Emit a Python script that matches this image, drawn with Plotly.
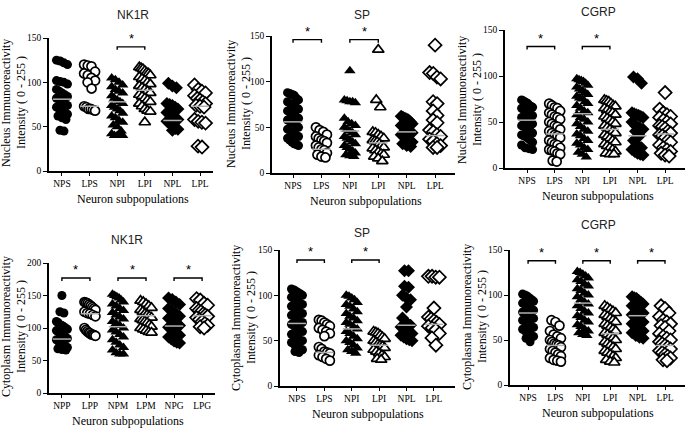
import plotly.graph_objects as go

W, H = 689, 430

# ---------------- category labels ----------------
cats_std = ["NPS", "LPS", "NPI", "LPI", "NPL", "LPL"]
cats_nk1r_cyto = ["NPP", "LPP", "NPM", "LPM", "NPG", "LPG"]

# ---------------- Panel 1: NK1R nucleus ----------------
nk1r_nuc_nps = [125,124,122,120,102,101,100,98,92,90,88,86,84,82,80,78,76,74,72,70,68,66,64,62,60,58,46,45]
nk1r_nuc_lps = [120,119,118,112,110,108,105,102,100,93,73,72,70,70,69,68]
nk1r_nuc_npi = [105,103,100,97,95,92,90,88,85,82,80,78,76,74,72,70,68,65,62,60,57,55,52,50,45,42,40,40,40,40]
nk1r_nuc_lpi = [117,116,115,113,111,110,108,106,104,102,100,98,96,94,92,90,88,86,84,82,80,78,76,73,70,68,67,55]
nk1r_nuc_npl = [99,96,94,76,75,74,72,70,66,64,62,60,58,56,54,52,50,48,47,46]
nk1r_nuc_lpl = [97,92,90,88,85,82,80,78,76,74,73,72,58,56,55,54,28,27]
nk1r_nuc_med = [81, 73, 78, 91, 57, 73]

# ---------------- Panel 2: SP nucleus ----------------
sp_nuc_nps = [88,87,86,85,82,80,78,76,74,72,70,68,66,64,62,60,58,56,55,53,50,48,46,44,42,40,38,36,34,32,31,30]
sp_nuc_lps = [50,47,45,42,40,38,36,35,33,30,28,26,25,22,20,18,17]
sp_nuc_npi = [112,80,79,78,78,77,60,56,54,52,50,48,46,44,42,40,38,36,34,32,30,28,26,24,22,20,19,18]
sp_nuc_lpi = [135,80,72,45,44,42,40,38,36,35,34,32,30,28,27,25,23,21,20,18,16,13]
sp_nuc_npl = [62,61,60,59,58,56,54,52,50,48,46,44,42,40,38,36,34,32,30,29]
sp_nuc_lpl = [140,110,109,105,103,78,76,68,63,58,55,47,45,42,40,37,35,32,30,28,28]
sp_nuc_med = [56, 26, 46, 33, 45, 41]

# ---------------- Panel 3: CGRP nucleus ----------------
cgrp_nuc_nps = [74,73,72,71,70,68,67,66,65,63,62,60,58,57,55,54,52,50,49,48,46,45,44,42,40,38,36,35,34,32,30,28,25,22,21,20]
cgrp_nuc_lps = [70,68,66,65,62,60,58,56,55,53,50,48,46,45,42,40,38,36,35,33,30,28,26,25,22,20,19,18,16,15,8,7]
cgrp_nuc_npi = [97,96,95,94,92,90,88,86,84,82,80,78,76,75,72,70,68,65,62,60,58,55,53,50,48,45,42,40,37,35,32,30,27,25,22,20,17,15,12]
cgrp_nuc_lpi = [74,73,72,70,68,67,65,63,61,60,58,56,54,52,50,48,46,44,42,40,38,36,34,32,30,28,26,24,22,20,18,16,15,15]
cgrp_nuc_npl = [99,97,92,60,59,58,57,56,55,50,46,44,42,40,35,30,25,22,20,18,16,15,14]
cgrp_nuc_lpl = [82,64,60,58,56,55,52,50,48,46,45,43,40,38,36,35,33,30,28,25,22,20,18,16,14,13]
cgrp_nuc_med = [52, 37, 59, 42, 35, 37]

# ---------------- Panel 4: NK1R cytoplasm ----------------
nk1r_cyt_npp = [150,125,123,110,108,105,104,102,100,98,96,94,92,90,88,86,84,82,80,78,76,74,72,70,68,67,66]
nk1r_cyt_lpp = [140,139,138,136,134,132,130,128,125,123,122,120,118,100,97,95,93,92,90,90,89,88]
nk1r_cyt_npm = [152,150,148,146,143,140,137,134,130,127,124,120,117,114,110,107,104,100,97,94,90,86,82,78,74,70,66,62,60,60]
nk1r_cyt_lpm = [142,140,137,134,131,128,125,122,120,118,116,114,112,110,108,105,102,100,98,96,94,93]
nk1r_cyt_npg = [146,144,140,136,130,126,122,118,115,112,110,107,104,101,98,95,92,89,86,83,80,78,77]
nk1r_cyt_lpg = [145,143,138,135,130,127,125,122,120,118,116,113,110,107,104,102,100]
nk1r_cyt_med = [83, 122, 102, 119, 103, 119]

# ---------------- Panel 5: SP cytoplasm ----------------
sp_cyt_nps = [107,106,104,102,100,98,96,94,92,90,88,86,84,82,80,78,75,72,70,68,66,64,62,60,57,55,52,50,48,46,44,42,40,38,37]
sp_cyt_lps = [73,72,70,68,66,64,62,60,58,55,43,41,38,37,36,34,32,30,28]
sp_cyt_npi = [100,99,97,95,92,90,88,85,82,80,77,75,72,70,68,65,63,60,58,55,52,50,48,45,42,40,38,36]
sp_cyt_lpi = [60,59,58,56,54,52,50,48,46,45,44,42,40,38,36,34,32,30,29]
sp_cyt_npl = [127,127,110,109,100,97,95,87,75,70,67,65,62,60,58,56,54,52,51,50]
sp_cyt_lpl = [121,121,120,120,86,76,74,72,70,68,66,64,62,58,53,45]
sp_cyt_med = [69, 37, 63, 45, 67, 68]

# ---------------- Panel 6: CGRP cytoplasm ----------------
cgrp_cyt_nps = [101,100,99,97,95,93,91,89,87,85,83,81,80,78,76,74,72,70,68,66,64,62,60,58,56,54,52,48]
cgrp_cyt_lps = [72,70,66,60,56,54,52,50,48,46,45,44,42,40,38,36,34,32,30,28,27,26]
cgrp_cyt_npi = [126,125,123,121,119,117,115,112,110,107,105,102,100,98,95,92,90,88,85,82,80,77,75,72,70,67,65,62,60,58,56,55]
cgrp_cyt_lpi = [88,86,84,82,80,78,76,74,72,70,68,66,64,62,60,58,56,54,52,50,48,46,44,42,40,38,36,34,32,30,28,26,25]
cgrp_cyt_npl = [98,97,96,94,92,90,88,86,84,82,80,78,76,74,72,70,68,66,64,62,60,58,55,53,52]
cgrp_cyt_lpl = [88,85,80,76,72,70,68,66,64,60,57,54,52,50,48,46,44,42,40,38,36,34,32,30,28,27]
cgrp_cyt_med = [80, 44, 91, 57, 77, 44]

# ---------------- titles ----------------
panel_titles = ["NK1R", "SP", "CGRP", "NK1R", "SP", "CGRP"]
ytitle_line1 = ["Nucleus Immunoreactivity", "Nucleus Immunoreactivity", "Nucleus Immunoreactivity",
                "Cytoplasm Immunoreactivity", "Cytoplasma Immunoreactivity", "Cytoplasma Immunoreactivity"]
ytitle_line2 = "Intensity ( 0 - 255 )"
xtitle = "Neuron subpopulations"

# significance pairs: (group a, group b, bracket y)
sig_p1 = [(2, 3, 140)]
sig_p2 = [(0, 1, 146), (2, 3, 146)]
sig_p3 = [(0, 1, 132), (2, 3, 132)]
sig_p4 = [(0, 1, 177), (2, 3, 177), (4, 5, 177)]
sig_p5 = [(0, 1, 139), (2, 3, 139)]
sig_p6 = [(0, 1, 138), (2, 3, 138), (4, 5, 138)]

panels = [
    dict(cats=cats_std, series=[nk1r_nuc_nps, nk1r_nuc_lps, nk1r_nuc_npi, nk1r_nuc_lpi, nk1r_nuc_npl, nk1r_nuc_lpl],
         med=nk1r_nuc_med, sig=sig_p1, ymax=150, yt=[0, 50, 100, 150],
         px=(49, 213), py=(38, 171), xr=(-0.47, 5.47), title=(133, 15), xt=(133, 199), yl=(6, 21, 103)),
    dict(cats=cats_std, series=[sp_nuc_nps, sp_nuc_lps, sp_nuc_npi, sp_nuc_lpi, sp_nuc_npl, sp_nuc_lpl],
         med=sp_nuc_med, sig=sig_p2, ymax=150, yt=[0, 50, 100, 150],
         px=(272, 455), py=(36, 173), xr=(-0.74, 5.7), title=(362, 15), xt=(366, 201), yl=(231, 246, 104)),
    dict(cats=cats_std, series=[cgrp_nuc_nps, cgrp_nuc_lps, cgrp_nuc_npi, cgrp_nuc_lpi, cgrp_nuc_npl, cgrp_nuc_lpl],
         med=cgrp_nuc_med, sig=sig_p3, ymax=150, yt=[0, 50, 100, 150],
         px=(505, 685), py=(30, 168), xr=(-0.8, 5.72), title=(598, 12), xt=(598, 196), yl=(462, 477, 100)),
    dict(cats=cats_nk1r_cyto, series=[nk1r_cyt_npp, nk1r_cyt_lpp, nk1r_cyt_npm, nk1r_cyt_lpm, nk1r_cyt_npg, nk1r_cyt_lpg],
         med=nk1r_cyt_med, sig=sig_p4, ymax=200, yt=[0, 50, 100, 150, 200],
         px=(49, 215), py=(263, 393), xr=(-0.46, 5.46), title=(127, 240), xt=(128, 421), yl=(6, 21, 327)),
    dict(cats=cats_std, series=[sp_cyt_nps, sp_cyt_lps, sp_cyt_npi, sp_cyt_lpi, sp_cyt_npl, sp_cyt_lpl],
         med=sp_cyt_med, sig=sig_p5, ymax=150, yt=[0, 50, 100, 150],
         px=(280, 455), py=(250, 386), xr=(-0.62, 5.77), title=(362, 233), xt=(368, 414), yl=(236, 251, 318)),
    dict(cats=cats_std, series=[cgrp_cyt_nps, cgrp_cyt_lps, cgrp_cyt_npi, cgrp_cyt_lpi, cgrp_cyt_npl, cgrp_cyt_lpl],
         med=cgrp_cyt_med, sig=sig_p6, ymax=150, yt=[0, 50, 100, 150],
         px=(510, 685), py=(250, 385), xr=(-0.66, 5.73), title=(598, 225), xt=(598, 413), yl=(467, 482, 317)),
]

symbols = ["circle", "circle", "triangle-up", "triangle-up", "diamond", "diamond"]
sizes = [9, 9, 10, 10, 10, 10]

SERIF = "Liberation Serif, DejaVu Serif, serif"
SANS = "Liberation Sans, Arial, sans-serif"

def fx(p):
    return p / W

def fy(p):
    return 1 - p / H

def spread(values, y_per_px, x_per_px):
    """Place points of similar value side by side (scatter dot plot layout)."""
    vals = sorted(values, reverse=True)
    bin_h = 8 * y_per_px
    groups = []
    for v in vals:
        if groups and groups[-1][0] - v < bin_h:
            groups[-1].append(v)
        else:
            groups.append([v])
    xs, ys = [], []
    for g in groups:
        k = len(g)
        step = (min(4.0, 11.0 / (k - 1)) if k > 1 else 0) * x_per_px
        for j, v in enumerate(g):
            xs.append((j - (k - 1) / 2) * step)
            ys.append(v)
    return xs, ys

fig = go.Figure()
layout = dict(width=W, height=H, margin=dict(l=0, r=0, t=0, b=0, autoexpand=False),
              paper_bgcolor="white", plot_bgcolor="white", showlegend=False)
annotations = []

def ann(x, y, text, font, angle=0):
    annotations.append(dict(x=fx(x), y=fy(y), xref="paper", yref="paper", text=text,
                            xanchor="center", yanchor="middle", textangle=angle,
                            showarrow=False, font=font))

for i, p in enumerate(panels):
    n = i + 1
    xa = "x" if n == 1 else f"x{n}"
    ya = "y" if n == 1 else f"y{n}"
    xkey = "xaxis" if n == 1 else f"xaxis{n}"
    ykey = "yaxis" if n == 1 else f"yaxis{n}"
    dom_w = p["px"][1] - p["px"][0]
    dom_h = p["py"][1] - p["py"][0]
    x_per_px = (p["xr"][1] - p["xr"][0]) / dom_w
    y_per_px = p["ymax"] / dom_h

    layout[xkey] = dict(domain=[fx(p["px"][0]), fx(p["px"][1])], range=list(p["xr"]), anchor=ya,
                        tickvals=list(range(6)), ticktext=p["cats"], showline=True, linecolor="black",
                        linewidth=1.5, ticks="outside", ticklen=3, tickwidth=1.2, tickcolor="black",
                        showgrid=False, zeroline=False, tickfont=dict(family=SERIF, size=9.5, color="black"))
    layout[ykey] = dict(domain=[fy(p["py"][1]), fy(p["py"][0])], range=[0, p["ymax"]], anchor=xa,
                        tickvals=p["yt"], showline=True, linecolor="black", linewidth=1.5,
                        ticks="outside", ticklen=4, tickwidth=1.2, tickcolor="black",
                        showgrid=False, zeroline=False, tickfont=dict(family=SERIF, size=9.5, color="black"))

    for g, vals in enumerate(p["series"]):
        dx, ys = spread(vals, y_per_px, x_per_px)
        xs = [g + d for d in dx]
        filled = g % 2 == 0
        fig.add_trace(go.Scatter(
            x=xs, y=ys, mode="markers", xaxis=xa, yaxis=ya, cliponaxis=False,
            marker=dict(symbol=symbols[g], size=sizes[g],
                        color="black" if filled else "white",
                        line=dict(color="black", width=0 if filled else 1.7))))

    # median lines
    mx, my = [], []
    for g, m in enumerate(p["med"]):
        mx += [g - 0.33, g + 0.33, None]
        my += [m, m, None]
    fig.add_trace(go.Scatter(x=mx, y=my, mode="lines", xaxis=xa, yaxis=ya,
                             line=dict(color="#b0b0b0", width=1.5)))

    # significance brackets
    d = 3 * y_per_px
    for a, b, yb in p["sig"]:
        fig.add_trace(go.Scatter(x=[a, a, b, b], y=[yb - d, yb, yb, yb - d], mode="lines",
                                 xaxis=xa, yaxis=ya, line=dict(color="black", width=1.4)))
        annotations.append(dict(x=(a + b) / 2, y=yb, xref=xa, yref=ya, text="*", showarrow=False,
                                yshift=8, font=dict(family=SANS, size=13, color="black")))

    ann(*p["title"], panel_titles[i], dict(family=SANS, size=12, color="#222"))
    ann(*p["xt"], xtitle, dict(family=SERIF, size=12, color="black"))
    l1, l2, yc = p["yl"]
    ann(l1, yc, ytitle_line1[i], dict(family=SERIF, size=12, color="black"), -90)
    ann(l2, yc, ytitle_line2, dict(family=SERIF, size=12, color="black"), -90)

layout["annotations"] = annotations
fig.update_layout(**layout)
fig.write_html("out.html", config={"displayModeBar": False},
               post_script="document.body.style.margin='0';")
